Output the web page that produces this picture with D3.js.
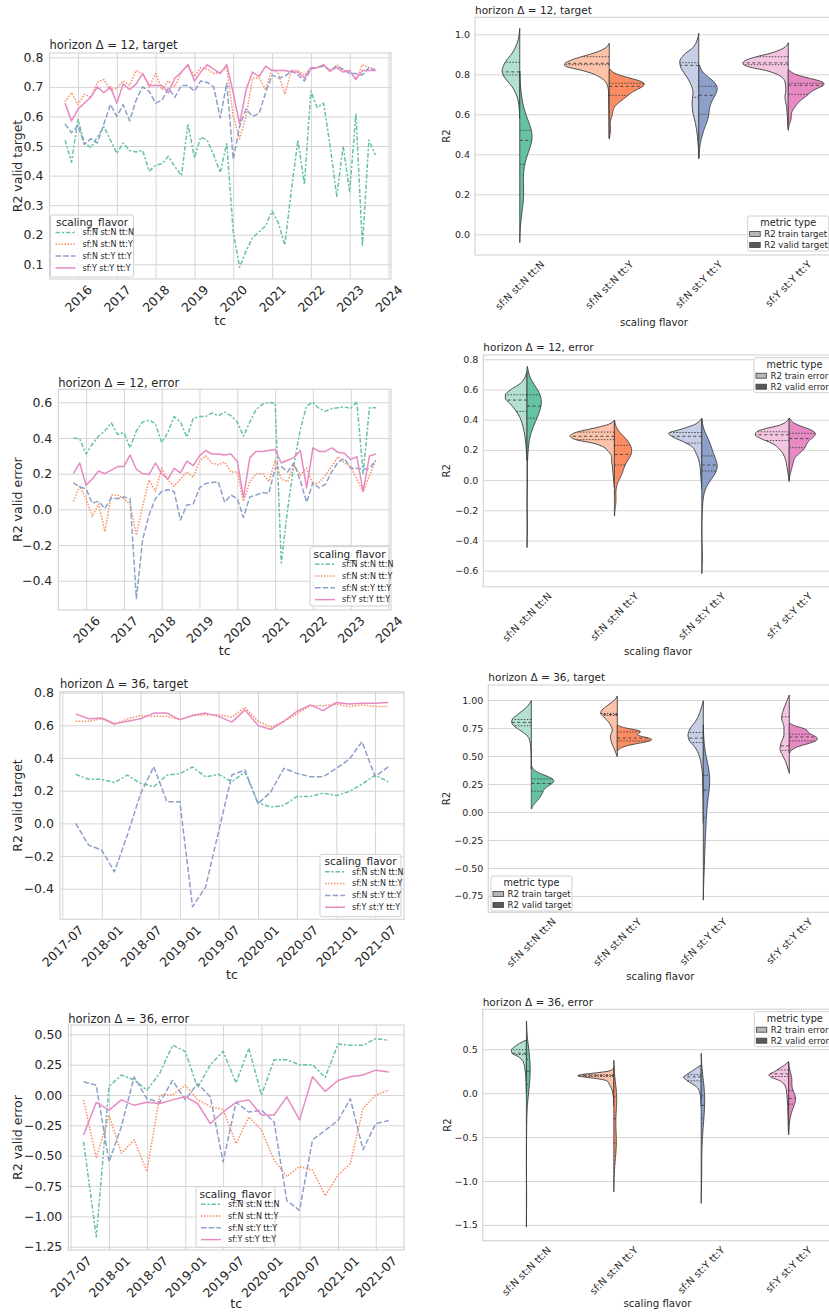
<!DOCTYPE html>
<html>
<head>
<meta charset="utf-8">
<script src="https://cdn.jsdelivr.net/npm/d3@7"></script>
<style>
  body { margin: 0; background: #fff; }
  svg text { font-family: "DejaVu Sans", sans-serif; fill: #262626; }
</style>
</head>
<body>
<svg id="fig" width="829" height="1316"></svg>
<script>
// ---------------- data ----------------
const flavors = ["sf:N st:N tt:N", "sf:N st:N tt:Y", "sf:N st:Y tt:Y", "sf:Y st:Y tt:Y"];
const palette = ["#66c2a5", "#fc8d62", "#8da0cb", "#e78ac3"];
const trainPalette = ["#b2e0d1", "#fdc3aa", "#c6cfe6", "#f4c5e1"];

const tcH12 = ["2015-09","2015-11","2016-01","2016-03","2016-05","2016-07","2016-09","2016-11",
  "2017-01","2017-03","2017-05","2017-07","2017-09","2017-11","2018-01","2018-03","2018-05","2018-07",
  "2018-09","2018-11","2019-01","2019-03","2019-05","2019-07","2019-09","2019-11","2020-01","2020-03",
  "2020-05","2020-07","2020-09","2020-11","2021-01","2021-03","2021-05","2021-07","2021-09","2021-11",
  "2022-01","2022-03","2022-05","2022-07","2022-09","2022-11","2023-01","2023-03","2023-05","2023-07","2023-09"];
const tcH36 = ["2017-09","2017-11","2018-01","2018-03","2018-05","2018-07","2018-09","2018-11",
  "2019-01","2019-03","2019-05","2019-07","2019-09","2019-11","2020-01","2020-03","2020-05","2020-07",
  "2020-09","2020-11","2021-01","2021-03","2021-05","2021-07","2021-09"];

const yearTicks = ["2016-01","2017-01","2018-01","2019-01","2020-01","2021-01","2022-01","2023-01","2024-01"];
const halfYearTicks = ["2017-07","2018-01","2018-07","2019-01","2019-07","2020-01","2020-07","2021-01","2021-07"];

// horizon 12, R2 valid target
const t12_NNN = [0.52,0.445,0.59,0.51,0.495,0.53,0.565,0.52,0.475,0.51,0.485,0.48,0.485,0.415,0.435,0.44,0.465,0.43,0.40,0.575,0.46,0.53,0.52,0.47,0.41,0.51,0.21,0.09,0.145,0.19,0.21,0.23,0.28,0.24,0.165,0.35,0.52,0.37,0.685,0.63,0.645,0.50,0.33,0.50,0.345,0.61,0.16,0.52,0.47];
const t12_NNY = [0.65,0.68,0.64,0.675,0.665,0.715,0.725,0.69,0.695,0.72,0.705,0.755,0.745,0.70,0.745,0.69,0.72,0.70,0.75,0.775,0.735,0.765,0.76,0.745,0.75,0.765,0.60,0.525,0.60,0.73,0.73,0.69,0.76,0.745,0.675,0.755,0.755,0.74,0.765,0.765,0.775,0.75,0.775,0.755,0.755,0.725,0.775,0.765,0.76];
const t12_NYY = [0.575,0.545,0.57,0.505,0.525,0.51,0.575,0.64,0.60,0.64,0.585,0.655,0.70,0.685,0.645,0.655,0.695,0.665,0.705,0.705,0.685,0.72,0.715,0.70,0.595,0.712,0.455,0.565,0.625,0.60,0.61,0.68,0.74,0.73,0.735,0.755,0.74,0.72,0.76,0.765,0.77,0.755,0.77,0.76,0.745,0.745,0.74,0.765,0.755];
const t12_YYY = [0.645,0.585,0.625,0.645,0.665,0.70,0.68,0.70,0.645,0.71,0.69,0.71,0.745,0.705,0.705,0.705,0.68,0.73,0.75,0.775,0.72,0.75,0.775,0.76,0.745,0.775,0.68,0.575,0.69,0.75,0.735,0.77,0.755,0.755,0.755,0.75,0.75,0.73,0.765,0.765,0.775,0.755,0.765,0.75,0.755,0.725,0.755,0.755,0.755];

// horizon 12, R2 valid error
const e12_NNN = [0.40,0.395,0.31,0.365,0.41,0.44,0.485,0.42,0.43,0.345,0.44,0.49,0.50,0.48,0.375,0.43,0.52,0.49,0.405,0.51,0.52,0.52,0.54,0.525,0.545,0.525,0.49,0.41,0.49,0.56,0.59,0.60,0.595,-0.30,0.0,0.25,0.45,0.58,0.60,0.565,0.55,0.565,0.57,0.575,0.565,0.605,0.20,0.57,0.57];
const e12_NNY = [0.045,0.13,0.06,-0.04,0.03,-0.125,0.08,0.08,0.06,0.03,-0.145,0.02,0.165,0.10,0.23,0.165,0.13,0.17,0.21,0.18,0.27,0.30,0.26,0.25,0.265,0.21,0.21,0.045,0.155,0.20,0.20,0.155,0.275,0.17,0.155,0.25,0.19,0.23,0.14,0.15,0.19,0.24,0.295,0.26,0.24,0.17,0.10,0.19,0.275];
const e12_NYY = [0.15,0.125,0.115,0.035,0.045,0.005,0.065,0.06,0.07,0.06,-0.50,-0.17,-0.03,0.06,0.10,0.11,0.10,-0.06,0.025,0.03,0.12,0.145,0.15,0.155,0.04,0.08,0.06,-0.045,0.07,0.08,0.095,0.09,0.23,0.24,0.21,0.26,0.16,0.04,0.15,0.12,0.14,0.21,0.265,0.285,0.23,0.23,0.225,0.23,0.275];
const e12_YYY = [0.20,0.26,0.135,0.17,0.215,0.20,0.22,0.24,0.24,0.305,0.225,0.20,0.195,0.26,0.20,0.17,0.23,0.205,0.27,0.245,0.30,0.33,0.31,0.31,0.305,0.31,0.27,0.065,0.29,0.325,0.325,0.33,0.335,0.26,0.275,0.29,0.33,0.12,0.345,0.325,0.325,0.345,0.32,0.315,0.28,0.295,0.10,0.30,0.31];

// horizon 36, R2 valid target
const t36_NNN = [0.30,0.27,0.27,0.25,0.295,0.245,0.225,0.295,0.305,0.345,0.285,0.30,0.255,0.315,0.125,0.10,0.11,0.165,0.165,0.185,0.17,0.195,0.24,0.295,0.255];
const t36_NNY = [0.625,0.625,0.64,0.605,0.64,0.66,0.655,0.655,0.635,0.66,0.665,0.665,0.65,0.71,0.625,0.59,0.625,0.67,0.72,0.72,0.73,0.715,0.725,0.715,0.715];
const t36_NYY = [0.0,-0.133,-0.163,-0.296,-0.07,0.18,0.347,0.133,0.133,-0.51,-0.39,-0.05,0.296,0.327,0.12,0.194,0.337,0.306,0.286,0.286,0.337,0.39,0.50,0.286,0.347];
const t36_YYY = [0.67,0.64,0.645,0.61,0.625,0.64,0.675,0.675,0.635,0.66,0.675,0.655,0.62,0.695,0.60,0.575,0.625,0.685,0.725,0.69,0.74,0.73,0.735,0.735,0.74];

// horizon 36, R2 valid error
const e36_NNN = [-0.385,-1.17,0.07,0.165,0.125,0.04,0.18,0.41,0.36,0.06,0.25,0.36,0.10,0.385,0.0,0.29,0.29,0.25,0.25,0.145,0.42,0.41,0.41,0.465,0.45];
const e36_NNY = [-0.04,-0.52,-0.165,-0.48,-0.37,-0.63,0.0,0.0,0.08,-0.04,-0.095,-0.12,-0.40,-0.18,-0.29,-0.535,-0.67,-0.59,-0.62,-0.83,-0.66,-0.565,-0.11,0.0,0.04];
const e36_NYY = [0.11,0.08,-0.55,-0.26,0.15,-0.03,-0.06,0.12,-0.04,0.095,-0.015,-0.55,-0.06,-0.14,-0.125,-0.22,-0.87,-0.95,-0.37,-0.29,-0.21,-0.03,-0.45,-0.235,-0.21];
const e36_YYY = [-0.33,-0.06,-0.125,-0.04,-0.085,-0.06,-0.07,-0.04,-0.015,-0.07,-0.235,-0.14,-0.06,-0.04,-0.165,-0.165,-0.015,-0.205,0.15,0.03,0.12,0.15,0.165,0.205,0.19];

// R2 train halves of the violins: [R2, half width as share of the category band]
const trainT12 = [
  [[0.58,0],[0.638,0.008],[0.688,0.03],[0.738,0.086],[0.772,0.148],[0.797,0.186],[0.82,0.197],[0.838,0.186],[0.863,0.159],[0.905,0.086],[0.955,0.03],[1.03,0]],
  [[0.48,0],[0.6,0.004],[0.713,0.008],[0.755,0.03],[0.78,0.086],[0.805,0.197],[0.822,0.327],[0.838,0.476],[0.847,0.502],[0.855,0.494],[0.872,0.42],[0.888,0.309],[0.905,0.178],[0.93,0.048],[0.955,0]],
  [[0.38,0],[0.488,0.014],[0.555,0.037],[0.605,0.064],[0.655,0.075],[0.705,0.064],[0.755,0.093],[0.797,0.148],[0.838,0.204],[0.863,0.212],[0.897,0.167],[0.938,0.056],[1.005,0]],
  [[0.52,0],[0.538,0.003],[0.638,0.019],[0.688,0.037],[0.722,0.026],[0.763,0.037],[0.797,0.111],[0.818,0.242],[0.838,0.446],[0.855,0.509],[0.872,0.465],[0.888,0.353],[0.905,0.2],[0.93,0.056],[0.958,0]]
];
const trainE12 = [
  [[0.13,0],[0.2,0.008],[0.288,0.023],[0.354,0.046],[0.41,0.077],[0.465,0.134],[0.509,0.198],[0.542,0.248],[0.564,0.248],[0.597,0.191],[0.64,0.077],[0.72,0]],
  [[-0.05,0],[0.067,0.019],[0.1,0.025],[0.122,0.031],[0.155,0.031],[0.189,0.069],[0.222,0.134],[0.244,0.24],[0.266,0.431],[0.292,0.507],[0.321,0.412],[0.343,0.24],[0.365,0.088],[0.398,0]],
  [[-0.06,0],[0.0,0.008],[0.111,0.026],[0.177,0.065],[0.222,0.114],[0.254,0.209],[0.283,0.324],[0.31,0.381],[0.332,0.267],[0.365,0.095],[0.41,0]],
  [[-0.01,0],[0.023,0.008],[0.089,0.026],[0.155,0.054],[0.2,0.103],[0.244,0.198],[0.277,0.332],[0.3,0.389],[0.321,0.37],[0.343,0.255],[0.365,0.103],[0.41,0]]
];
const trainT36 = [
  [[0.38,0],[0.5,0.002],[0.583,0.008],[0.643,0.02],[0.688,0.058],[0.732,0.136],[0.777,0.213],[0.807,0.229],[0.836,0.213],[0.88,0.143],[0.94,0.05],[0.994,0]],
  [[0.494,0],[0.568,0.038],[0.628,0.07],[0.673,0.081],[0.732,0.058],[0.79,0.09],[0.85,0.159],[0.88,0.194],[0.91,0.178],[0.955,0.108],[1.0,0.031],[1.036,0]],
  [[-0.1,0],[0.315,0.008],[0.405,0.02],[0.494,0.043],[0.583,0.101],[0.643,0.166],[0.688,0.178],[0.747,0.151],[0.82,0.081],[0.91,0.031],[0.994,0]],
  [[0.345,0],[0.375,0.012],[0.45,0.043],[0.51,0.081],[0.56,0.108],[0.613,0.097],[0.688,0.062],[0.762,0.062],[0.836,0.09],[0.91,0.07],[0.985,0.031],[1.045,0]]
];
const trainE36 = [
  [[0.0,0],[0.113,0.003],[0.265,0.015],[0.36,0.038],[0.417,0.095],[0.454,0.164],[0.492,0.172],[0.53,0.134],[0.568,0.077],[0.606,0]],
  [[-0.15,0],[-0.077,0.003],[0.037,0.019],[0.094,0.049],[0.132,0.069],[0.158,0.145],[0.181,0.317],[0.196,0.412],[0.208,0.392],[0.227,0.24],[0.246,0.088],[0.265,0.02],[0.3,0]],
  [[-0.15,0],[-0.077,0.003],[0.018,0.019],[0.075,0.057],[0.113,0.114],[0.151,0.172],[0.181,0.203],[0.208,0.172],[0.246,0.114],[0.284,0.057],[0.32,0]],
  [[-0.45,0],[-0.42,0.003],[-0.23,0.008],[-0.077,0.015],[0.037,0.026],[0.094,0.046],[0.143,0.103],[0.181,0.198],[0.208,0.225],[0.246,0.16],[0.284,0.103],[0.32,0.046],[0.36,0]]
];
// train quartiles [q25, median, q75]
const trainQT12 = [[0.797,0.812,0.86],[0.848,0.855,0.888],[0.685,0.845,0.858],[0.848,0.857,0.888]];
const trainQE12 = [[0.455,0.53,0.565],[0.268,0.29,0.318],[0.245,0.29,0.315],[0.262,0.30,0.32]];
const trainQT36 = [[0.77,0.80,0.826],[0.862,0.87,0.88],[0.62,0.66,0.71],[0.55,0.59,0.85]];
const trainQE36 = [[0.44,0.455,0.495],[0.19,0.20,0.21],[0.14,0.185,0.21],[0.19,0.22,0.265]];

// ---------------- drawing ----------------
const svg = d3.select("#fig");
const font = "DejaVu Sans";
const ink = "#262626";
const gridColor = "#d5d5d5";
const edge = "#3d3d3d";
const parseTc = d3.timeParse("%Y-%m");
const dashes = ["4.5,1.9,2.2,1.9", "1.5,1.5", "5.5,2.2", null];

function styleAxis(ax, fs) {
  ax.attr("font-family", font).attr("font-size", fs);
  ax.select(".domain").remove();
  ax.selectAll(".tick line").attr("stroke", gridColor).attr("stroke-width", 1);
  ax.selectAll(".tick text").attr("fill", ink);
}

function rotateTicks(ax, fs) {
  ax.selectAll(".tick text").each(function () {
    const t = d3.select(this).attr("y", 0).attr("dy", "0.35em").attr("text-anchor", "middle");
    const len = this.getComputedTextLength();
    t.attr("transform", `translate(0,${4 + (len + fs) / (2 * Math.SQRT2)}) rotate(-45)`);
  });
}

function addText(g, x, y, txt, fs, opts = {}) {
  const t = g.append("text").attr("x", x).attr("y", y).attr("font-size", fs)
    .attr("text-anchor", opts.anchor || "start").text(txt);
  if (opts.dy) t.attr("dy", opts.dy);
  if (opts.rotate) t.attr("transform", `rotate(-90,${x},${y})`);
  return t;
}

function linePanel(p) {
  const [L, T, R, B] = p.box;
  const dates = p.tc.map(parseTc);
  const pad = (dates[dates.length - 1] - dates[0]) * 0.05;
  const x = d3.scaleTime()
    .domain([new Date(+dates[0] - pad), new Date(+dates[dates.length - 1] + pad)])
    .range([L, R]);
  const y = d3.scaleLinear().domain(p.yDomain).range([B, T]);
  const g = svg.append("g");

  const ya = g.append("g").attr("transform", `translate(${L},0)`)
    .call(d3.axisLeft(y).tickValues(p.yTicks).tickFormat(d3.format(p.yFmt)).tickSize(-(R - L)).tickPadding(6));
  styleAxis(ya, 12.5);
  const xa = g.append("g").attr("transform", `translate(0,${B})`)
    .call(d3.axisBottom(x).tickValues(p.xTicks.map(parseTc)).tickFormat(d3.timeFormat(p.xFmt)).tickSize(-(B - T)));
  styleAxis(xa, 12.5);
  rotateTicks(xa, 12.5);
  g.append("rect").attr("x", L).attr("y", T).attr("width", R - L).attr("height", B - T)
    .attr("fill", "none").attr("stroke", gridColor).attr("stroke-width", 1.2);

  const line = d3.line().x((d, i) => x(dates[i])).y(d => y(d));
  p.series.forEach((s, i) => {
    g.append("path").datum(s).attr("d", line).attr("fill", "none")
      .attr("stroke", palette[i]).attr("stroke-width", 1.5)
      .attr("stroke-linejoin", "round").attr("stroke-dasharray", dashes[i]);
  });

  addText(g, L, p.titleY, p.title, 11.5);
  addText(g, 18, (T + B) / 2, p.ylabel, 12.5, { anchor: "middle", rotate: true, dy: "0.35em" });
  addText(g, (L + R) / 2, p.xlabelY, "tc", 12.5, { anchor: "middle", dy: "0.35em" });

  const [lx, ly, lw, lh] = p.legend;
  g.append("rect").attr("x", lx).attr("y", ly).attr("width", lw).attr("height", lh).attr("rx", 2)
    .attr("fill", "#fff").attr("fill-opacity", 0.8).attr("stroke", "#d0d0d0");
  addText(g, lx + lw / 2, ly + 7.5, "scaling_flavor", 10.5, { anchor: "middle", dy: "0.35em" });
  flavors.forEach((f, i) => {
    const ry = ly + 17.5 + i * 11.8;
    g.append("line").attr("x1", lx + 5).attr("x2", lx + 25).attr("y1", ry).attr("y2", ry)
      .attr("stroke", palette[i]).attr("stroke-width", 1.5).attr("stroke-dasharray", dashes[i]);
    addText(g, lx + 32, ry, f, 8, { dy: "0.35em" });
  });
}

function kde(values) {
  const n = values.length;
  const bw = d3.deviation(values) * Math.pow(n, -0.2);
  const lo = d3.min(values) - 2 * bw, hi = d3.max(values) + 2 * bw;
  return d3.range(100).map(i => {
    const v = lo + (hi - lo) * i / 99;
    const dens = d3.sum(values, s => Math.exp(-0.5 * ((v - s) / bw) ** 2)) / (n * bw * Math.sqrt(2 * Math.PI));
    return [v, dens];
  });
}

function widthAt(prof, q) {
  for (let i = 1; i < prof.length; i++) {
    const [a, wa] = prof[i - 1], [b, wb] = prof[i];
    if (q >= a && q <= b) return wa + (wb - wa) * (q - a) / (b - a);
  }
  return 0;
}

function quartileLine(g, c, yv, w, j, side) {
  g.append("line").attr("x1", c).attr("x2", c + side * w).attr("y1", yv).attr("y2", yv)
    .attr("stroke", edge).attr("stroke-width", 0.9)
    .attr("stroke-dasharray", j === 1 ? "3,2.5" : "1.5,1.5");
}

function violinPanel(p) {
  const [L, T, R, B] = p.box;
  const x = d3.scaleBand().domain(flavors).range([L, R]);
  const y = d3.scaleLinear().domain(p.yDomain).range([B, T]);
  const bw = x.bandwidth();
  const g = svg.append("g");

  const ya = g.append("g").attr("transform", `translate(${L},0)`)
    .call(d3.axisLeft(y).tickValues(p.yTicks).tickFormat(d3.format(p.yFmt)).tickSize(-(R - L)).tickPadding(5));
  styleAxis(ya, 9.5);
  const xa = g.append("g").attr("transform", `translate(0,${B})`)
    .call(d3.axisBottom(x).tickSize(0));
  styleAxis(xa, 10);
  rotateTicks(xa, 10);
  g.append("rect").attr("x", L).attr("y", T).attr("width", R - L).attr("height", B - T)
    .attr("fill", "none").attr("stroke", gridColor).attr("stroke-width", 1.2);

  const kdes = p.valid.map(kde);
  const maxD = d3.max(kdes, k => d3.max(k, d => d[1]));
  const wScale = d3.scaleLinear().domain([0, maxD]).range([0, p.validMax * bw]);

  flavors.forEach((f, i) => {
    const c = x(f) + bw / 2;
    // train half (left)
    const prof = p.train[i];
    g.append("path").datum(prof)
      .attr("d", d3.area().curve(d3.curveMonotoneY).y(d => y(d[0])).x0(c).x1(d => c - d[1] * bw))
      .attr("fill", trainPalette[i]).attr("stroke", edge).attr("stroke-width", 0.9);
    p.trainQ[i].forEach((q, j) => quartileLine(g, c, y(q), widthAt(prof, q) * bw, j, -1));
    // valid half (right)
    const k = kdes[i];
    g.append("path").datum(k)
      .attr("d", d3.area().y(d => y(d[0])).x0(c).x1(d => c + wScale(d[1])))
      .attr("fill", palette[i]).attr("stroke", edge).attr("stroke-width", 0.9);
    const sorted = p.valid[i].slice().sort(d3.ascending);
    const kp = k.map(d => [d[0], wScale(d[1])]);
    [0.25, 0.5, 0.75].forEach((pr, j) => {
      const q = d3.quantile(sorted, pr);
      quartileLine(g, c, y(q), widthAt(kp, q), j, 1);
    });
  });

  addText(g, L, p.titleY, p.title, 10.5);
  addText(g, 447, (T + B) / 2, "R2", 10, { anchor: "middle", rotate: true, dy: "0.35em" });
  addText(g, (L + R) / 2, p.xlabelY, "scaling flavor", 10.2, { anchor: "middle", dy: "0.35em" });

  const [lx, ly] = p.legend;
  g.append("rect").attr("x", lx).attr("y", ly).attr("width", 81).attr("height", 35).attr("rx", 2)
    .attr("fill", "#fff").attr("fill-opacity", 0.8).attr("stroke", "#d0d0d0");
  addText(g, lx + 40.5, ly + 6.5, "metric type", 9.7, { anchor: "middle", dy: "0.35em" });
  p.legendLabels.forEach((lab, i) => {
    const ry = ly + 18 + i * 11;
    g.append("rect").attr("x", lx + 2).attr("y", ry - 2.5).attr("width", 10.5).attr("height", 5)
      .attr("fill", i === 0 ? "#b8b8b8" : "#5a5a5a").attr("stroke", "#3d3d3d").attr("stroke-width", 0.8);
    addText(g, lx + 16.5, ry, lab, 8.6, { dy: "0.35em" });
  });
}

// ---------------- panels ----------------
linePanel({
  box: [49.5, 53, 391, 279], tc: tcH12, xTicks: yearTicks, xFmt: "%Y",
  yDomain: [0.0503, 0.8145], yTicks: [0.1,0.2,0.3,0.4,0.5,0.6,0.7,0.8], yFmt: ".1f",
  series: [t12_NNN, t12_NNY, t12_NYY, t12_YYY],
  title: "horizon Δ = 12, target", titleY: 48.5, ylabel: "R2 valid target", xlabelY: 320.7,
  legend: [50.5, 215, 83, 62]
});
linePanel({
  box: [58.3, 389.3, 391, 610], tc: tcH12, xTicks: yearTicks, xFmt: "%Y",
  yDomain: [-0.564, 0.673], yTicks: [-0.4,-0.2,0,0.2,0.4,0.6], yFmt: ".1f",
  series: [e12_NNN, e12_NNY, e12_NYY, e12_YYY],
  title: "horizon Δ = 12, error", titleY: 386.7, ylabel: "R2 valid error", xlabelY: 650.7,
  legend: [310, 546.7, 79, 59.3]
});
linePanel({
  box: [60, 691.7, 404, 919.3], tc: tcH36, xTicks: halfYearTicks, xFmt: "%Y-%m",
  yDomain: [-0.587, 0.806], yTicks: [-0.4,-0.2,0,0.2,0.4,0.6,0.8], yFmt: ".1f",
  series: [t36_NNN, t36_NNY, t36_NYY, t36_YYY],
  title: "horizon Δ = 36, target", titleY: 688.3, ylabel: "R2 valid target", xlabelY: 975,
  legend: [320, 854.3, 81, 62.4]
});
linePanel({
  box: [68.3, 1025, 404, 1250], tc: tcH36, xTicks: halfYearTicks, xFmt: "%Y-%m",
  yDomain: [-1.277, 0.577], yTicks: [-1.25,-1,-0.75,-0.5,-0.25,0,0.25,0.5], yFmt: ".2f",
  series: [e36_NNN, e36_NNY, e36_NYY, e36_YYY],
  title: "horizon Δ = 36, error", titleY: 1023.3, ylabel: "R2 valid error", xlabelY: 1304,
  legend: [196, 1186.7, 79, 60.6]
});

violinPanel({
  box: [475, 17.3, 833, 255], yDomain: [-0.1035, 1.085], yTicks: [0,0.2,0.4,0.6,0.8,1.0], yFmt: ".1f",
  valid: [t12_NNN, t12_NNY, t12_NYY, t12_YYY], validMax: 0.40,
  train: trainT12, trainQ: trainQT12,
  title: "horizon Δ = 12, target", titleY: 14.3, xlabelY: 322,
  legend: [747.7, 216], legendLabels: ["R2 train target", "R2 valid target"]
});
violinPanel({
  box: [483.3, 355, 832.9, 586.7], yDomain: [-0.706, 0.8285], yTicks: [-0.6,-0.4,-0.2,0,0.2,0.4,0.6,0.8], yFmt: ".1f",
  valid: [e12_NNN, e12_NNY, e12_NYY, e12_YYY], validMax: 0.30,
  train: trainE12, trainQ: trainQE12,
  title: "horizon Δ = 12, error", titleY: 350.7, xlabelY: 651.7,
  legend: [754, 357.7], legendLabels: ["R2 train error", "R2 valid error"]
});
violinPanel({
  box: [488.3, 685, 832.3, 912.3], yDomain: [-0.896, 1.134], yTicks: [-0.75,-0.5,-0.25,0,0.25,0.5,0.75,1.0], yFmt: ".2f",
  valid: [t36_NNN, t36_NNY, t36_NYY, t36_YYY], validMax: 0.40,
  train: trainT36, trainQ: trainQT36,
  title: "horizon Δ = 36, target", titleY: 680.7, xlabelY: 976,
  legend: [491, 876], legendLabels: ["R2 train target", "R2 valid target"]
});
violinPanel({
  box: [482.7, 1009.3, 832.3, 1240.7], yDomain: [-1.68, 0.955], yTicks: [-1.5,-1,-0.5,0,0.5], yFmt: ".1f",
  valid: [e36_NNN, e36_NNY, e36_NYY, e36_YYY], validMax: 0.08,
  train: trainE36, trainQ: trainQE36,
  title: "horizon Δ = 36, error", titleY: 1006, xlabelY: 1303,
  legend: [754.3, 1011.7], legendLabels: ["R2 train error", "R2 valid error"]
});
</script>
</body>
</html>
